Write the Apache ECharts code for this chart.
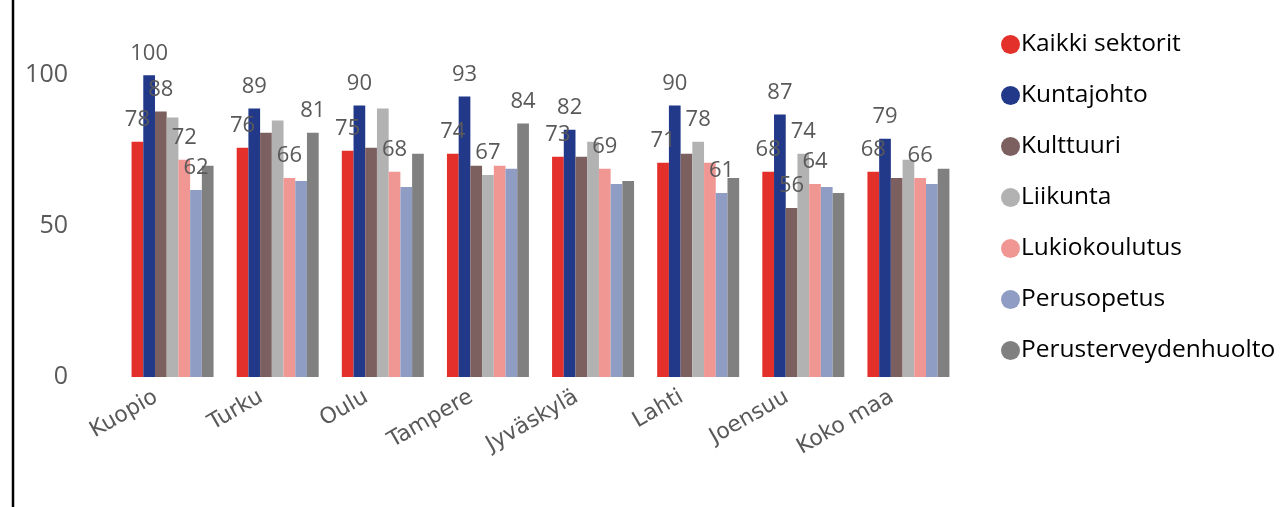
<!DOCTYPE html>
<html>
<head>
<meta charset="utf-8">
<script src="https://cdn.jsdelivr.net/npm/echarts@6/dist/echarts.min.js"></script>
<style>
html,body{margin:0;padding:0;background:#fff;}
#chart{width:1283px;height:507px;}
</style>
</head>
<body>
<div id="chart"></div>
<script>
const categories = ['Kuopio','Turku','Oulu','Tampere','Jyväskylä','Lahti','Joensuu','Koko maa'];
const seriesNames = ['Kaikki sektorit','Kuntajohto','Kulttuuri','Liikunta','Lukiokoulutus','Perusopetus','Perusterveydenhuolto'];
const kaikkiSektorit = [78,76,75,74,73,71,68,68];
const kuntajohto = [100,89,90,93,82,90,87,79];
const kulttuuri = [88,81,76,70,73,74,56,66];
const liikunta = [86,85,89,67,78,78,74,72];
const lukiokoulutus = [72,66,68,70,69,71,64,66];
const perusopetus = [62,65,63,69,64,61,63,64];
const perusterveydenhuolto = [70,81,74,84,65,66,61,69];
// categories whose value label is shown, per series
const labeledKaikki = categories.slice();
const labeledKuntajohto = categories.slice();
const labeledKulttuuri = ['Kuopio','Joensuu'];
const labeledLiikunta = ['Tampere','Lahti','Joensuu'];
const labeledLukio = ['Kuopio','Turku','Oulu','Jyväskylä','Joensuu','Koko maa'];
const labeledPerusopetus = ['Kuopio','Lahti'];
const labeledPerusterveys = ['Turku','Tampere'];
const yTicks = [0,50,100];

const values = [kaikkiSektorit,kuntajohto,kulttuuri,liikunta,lukiokoulutus,perusopetus,perusterveydenhuolto];
const labeled = [labeledKaikki,labeledKuntajohto,labeledKulttuuri,labeledLiikunta,labeledLukio,labeledPerusopetus,labeledPerusterveys];
const colors = ['#E4302A','#22398A','#7C5F5F','#B2B2B2','#F09793','#8F9DC4','#808080'];

const series = seriesNames.map((name,i)=>({
  name: name,
  type: 'bar',
  barGap: '0%',
  barCategoryGap: '22%',
  itemStyle: {color: colors[i]},
  label: {show:false, position:'top', distance:11, color:'#595959', fontSize:22, fontFamily:'Open Sans'},
  data: values[i].map((v,j)=>({value:v, label:{show: labeled[i].indexOf(categories[j])>=0}}))
}));

const chart = echarts.init(document.getElementById('chart'));
chart.setOption({
  animation:false,
  backgroundColor:'#fff',
  color: colors,
  grid:{left:120, right:322, top:15, bottom:130},
  legend:{
    orient:'vertical', left:996, top:27,
    icon:'circle', itemWidth:19, itemHeight:19, itemGap:26,
    textStyle:{color:'#000', fontSize:24.5, fontFamily:'Open Sans', padding:[0,0,0,-4]},
    data: seriesNames
  },
  xAxis:{
    type:'category', data:categories,
    axisLine:{show:false}, axisTick:{show:false},
    axisLabel:{rotate:30, margin:9, color:'#595959', fontSize:22, fontFamily:'DejaVu Sans', padding:[0,19,0,0], interval:0}
  },
  yAxis:{
    type:'value', min:0, max:120, interval:50,
    splitLine:{show:false}, axisLine:{show:false}, axisTick:{show:false},
    axisLabel:{margin:52, color:'#595959', fontSize:25, fontFamily:'Open Sans', showMaxLabel:false,
      formatter:(v)=> yTicks.indexOf(v)>=0 ? String(v) : ''}
  },
  graphic:[{type:'line', shape:{x1:13,y1:0,x2:13,y2:507}, style:{stroke:'#000', lineWidth:2.5}}],
  series: series
});
</script>
</body>
</html>
